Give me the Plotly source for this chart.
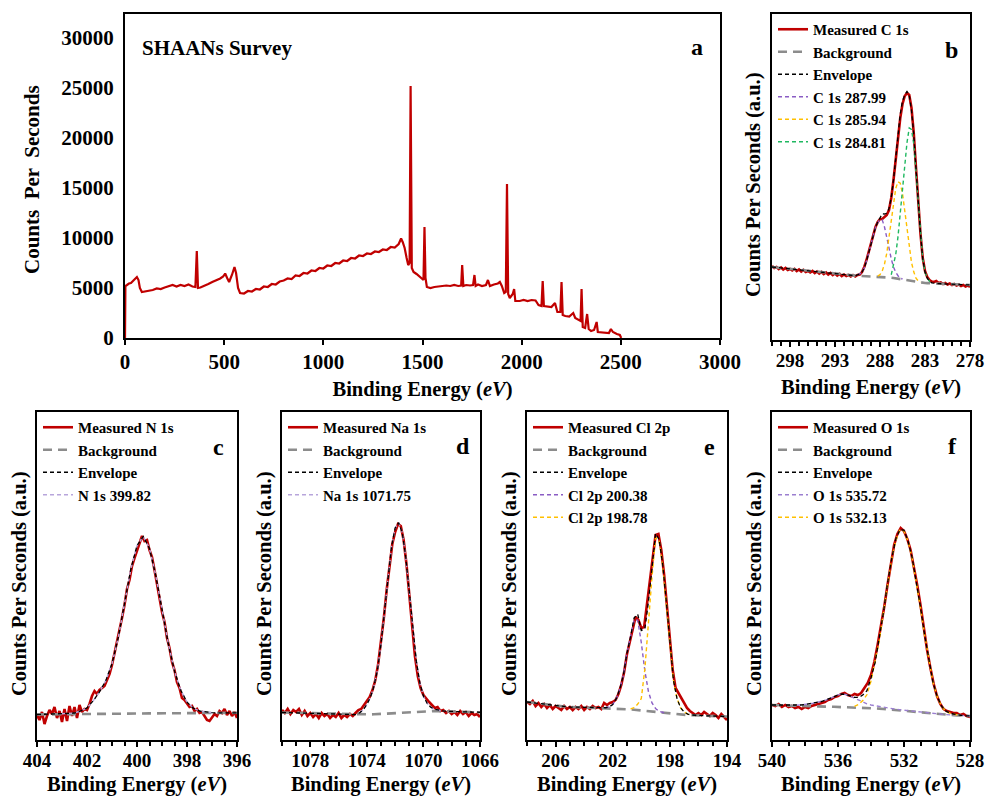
import numpy as np
import plotly.graph_objects as go

# ---------------- (a) survey ----------------
survey_be = [0, 2, 10, 20, 30, 40, 50, 60, 68, 75,
             85, 100, 120, 140, 160, 180, 200, 220, 240, 260,
             280, 300, 320, 340, 355, 362, 368, 380, 400, 420,
             440, 460, 480, 495, 505, 515, 525, 540, 552, 560,
             570, 580, 600, 620, 640, 660, 680, 700, 720, 740,
             760, 780, 800, 820, 840, 860, 880, 900, 920, 940,
             960, 980, 1000, 1020, 1040, 1060, 1080, 1100, 1120, 1140,
             1160, 1180, 1200, 1220, 1240, 1260, 1280, 1300, 1320, 1340,
             1360, 1380, 1392, 1400, 1410, 1420, 1428, 1435, 1440, 1446,
             1455, 1470, 1490, 1505, 1510, 1515, 1522, 1540, 1560, 1580,
             1600, 1620, 1640, 1660, 1680, 1695, 1700, 1706, 1720, 1740,
             1755, 1762, 1768, 1780, 1800, 1820, 1830, 1840, 1860, 1880,
             1890, 1900, 1912, 1920, 1926, 1932, 1940, 1955, 1962, 1968,
             1990, 2010, 2030, 2050, 2070, 2085, 2100, 2106, 2112, 2130,
             2150, 2168, 2180, 2195, 2201, 2207, 2220, 2240, 2260, 2270,
             2285, 2297, 2302, 2308, 2320, 2330, 2338, 2350, 2365, 2378,
             2384, 2400, 2420, 2440, 2450, 2460, 2480, 2495, 2502]
survey_cps = [0, 5200, 5300, 5450, 5500, 5700, 6000, 6100, 5800, 5000,
              4600, 4650, 4750, 4800, 4950, 4900, 5050, 5150, 5300, 5150,
              5300, 5200, 5350, 5150, 5100, 8700, 5000, 5050, 5200, 5400,
              5600, 5750, 5950, 6150, 6450, 6000, 5600, 6350, 7100, 6500,
              5000, 4500, 4450, 4700, 4650, 4900, 4850, 5150, 5100, 5400,
              5350, 5650, 5750, 5950, 5900, 6250, 6200, 6500, 6450, 6750,
              6700, 7000, 6950, 7250, 7200, 7500, 7450, 7750, 7700, 8000,
              7950, 8250, 8200, 8450, 8400, 8650, 8600, 8850, 8800, 9100,
              9050, 9400, 9950, 9600, 9000, 8000, 7300, 7500, 25200, 7000,
              6600, 6400, 6100, 5800, 11100, 6000, 5100, 5000, 5100, 5150,
              5200, 5250, 5200, 5300, 5200, 5250, 7300, 5200, 5300, 5250,
              5300, 6300, 5200, 5350, 5200, 5300, 5800, 5200, 5350, 5450,
              5600, 5200, 4500, 4600, 15400, 4400, 4000, 4400, 4900, 3700,
              3700, 3800, 3700, 3800, 3750, 3300, 3200, 5700, 3200, 3150,
              3100, 3500, 2600, 2600, 5600, 2300, 2200, 2150, 2500, 2000,
              1800, 1700, 4900, 1100, 1000, 2400, 900, 700, 800, 1600,
              600, 550, 500, 500, 900, 600, 400, 300, 0]

# ---------------- (b) C 1s ----------------
c1s_meas = [74, 72, 73, 71, 72.5, 70.5, 72, 70, 71, 69.5,
            71, 69, 70.5, 68.5, 70, 68, 69, 67.5, 69, 67,
            68.5, 66.5, 68, 66, 67.5, 65.5, 67, 65, 66.5, 64.5,
            66, 64, 65.5, 64, 65, 63.5, 65, 63.5, 65, 65.5,
            68, 73, 80, 88, 97, 106, 113, 118, 121, 121,
            123, 125, 130, 142, 160, 182, 203, 222, 236, 244,
            247, 245, 232, 207, 172, 138, 106, 82, 69, 63,
            60, 58.5, 58, 59, 57, 57.5, 56, 57, 55.5, 56.5,
            55, 56, 54.5, 55.5, 54, 55, 53.5, 54.5, 53]
c1s_bg = [73, 72.75, 72.5, 72.25, 72, 71.75, 71.5, 71.25, 71, 70.75,
          70.5, 70.25, 70, 69.75, 69.5, 69.25, 69, 68.75, 68.5, 68.25,
          68, 67.75, 67.5, 67.25, 67, 66.75, 66.5, 66.25, 66, 65.75,
          65.5, 65.25, 65, 64.85, 64.7, 64.55, 64.4, 64.3, 64.2, 64.1,
          64, 64, 64, 63.9, 63.8, 63.7, 63.6, 63.45, 63.3, 63.15,
          63, 62.75, 62.5, 62.25, 62, 61.65, 61.3, 60.9, 60.5, 60,
          59.5, 59, 58.5, 58.15, 57.8, 57.55, 57.3, 57.15, 57, 56.9,
          56.8, 56.7, 56.6, 56.5, 56.4, 56.3, 56.2, 56.1, 56, 55.9,
          55.8, 55.7, 55.6, 55.5, 55.4, 55.3, 55.2, 55.1, 55]
c1s_p1_be = [290.5, 290.25, 290.0, 289.75, 289.5, 289.25, 289.0, 288.75, 288.5, 288.25,
             288.0, 287.75, 287.5, 287.25, 287.0, 286.75, 286.5, 286.25, 286.0, 285.75, 285.5]
c1s_p1 = [1, 2, 4, 8, 15, 24, 33, 42, 49, 54, 57, 57, 50, 40, 29, 19, 11, 6, 3, 1, 0.5]
c1s_p2_be = [288.25, 288.0, 287.75, 287.5, 287.25, 287.0, 286.75, 286.5, 286.25, 286.0,
             285.75, 285.5, 285.25, 285.0, 284.75, 284.5, 284.25, 284.0, 283.75, 283.5]
c1s_p2 = [0.5, 2, 6, 13, 24, 40, 58, 75, 90, 97, 96, 86, 70, 51, 33, 19, 10, 4, 1.5, 0.5]
c1s_p3_be = [286.75, 286.5, 286.25, 286.0, 285.75, 285.5, 285.25, 285.0, 284.75, 284.5,
             284.25, 284.0, 283.75, 283.5, 283.25, 283.0, 282.75, 282.5, 282.25]
c1s_p3 = [3, 12, 24, 42, 68, 92, 115, 138, 153, 152, 138, 110, 78, 48, 24, 11, 5, 2, 0.5]

# ---------------- (c) N 1s ----------------
n1s_meas = [25, 20, 28, 16, 24, 30, 26, 33, 22, 29,
            18, 31, 19, 34, 24, 33, 22, 35, 28, 31,
            30, 36, 44, 49, 46, 50, 52, 54, 60, 66,
            75, 86, 97, 110, 122, 135, 151, 160, 174, 182,
            190, 198, 204, 199, 200, 190, 183, 170, 156, 141,
            128, 118, 102, 92, 78, 70, 58, 52, 42, 40,
            36, 33, 34, 29, 31, 27, 28, 24, 20, 19,
            22, 26, 24, 29, 27, 31, 25, 29, 24, 28,
            22]
n1s_bg = [25.5, 25.6, 25.7, 25.8, 25.9, 26.0, 26.0, 26.1, 26.1, 26.2,
          26.2, 26.3, 26.3, 26.4, 26.4, 26.5, 26.5, 26.5, 26.6, 26.6,
          26.7, 26.7, 26.8, 26.8, 26.9, 26.9, 27.0, 27.0, 27.0, 27.1,
          27.1, 27.2, 27.2]
n1s_p1_be = [403.0, 402.75, 402.5, 402.25, 402.0, 401.75, 401.5, 401.25, 401.0, 400.75,
             400.5, 400.25, 400.0, 399.75, 399.5, 399.25, 399.0, 398.75, 398.5, 398.25,
             398.0, 397.75, 397.5, 397.25, 397.0]
n1s_p1 = [0.3, 0.6, 1, 3, 6, 13, 22, 33, 50, 76, 110, 144, 168, 177, 165, 138, 104, 70, 42, 23,
          11, 5, 2, 1, 0.3]

# ---------------- (d) Na 1s ----------------
na1s_meas = [30, 27, 31, 26, 30, 28, 31, 25, 29, 24,
             27, 23, 26, 22, 27, 24, 26, 22, 25, 23,
             27, 22, 25, 23, 26, 24, 27, 30, 31, 35,
             38, 43, 50, 60, 76, 98, 122, 150, 176, 196,
             208, 216, 214, 200, 176, 146, 112, 84, 64, 52,
             45, 41, 38, 35, 32, 33, 29, 30, 27, 29,
             26, 28, 25, 29, 26, 28, 24, 27, 25, 26,
             23]
na1s_bg = [27.5, 27.4, 27.3, 27.2, 27.1, 27.0, 26.9, 26.8, 26.7, 26.6,
           26.5, 26.4, 26.3, 26.2, 26.1, 26.0, 25.9, 25.8, 25.7, 25.6,
           25.5, 25.4, 25.4, 25.4, 25.5, 25.6, 25.7, 25.9, 26.1, 26.3,
           26.5, 26.8, 27.0, 27.3, 27.6, 27.9, 28.2, 28.4, 28.6, 28.8,
           28.9, 29.0, 29.0, 29.0, 28.9, 28.8, 28.7, 28.6, 28.5, 28.4,
           28.3, 28.2, 28.1, 28.0, 27.9, 27.8, 27.7]
na1s_p1_be = [1074.5, 1074.25, 1074.0, 1073.75, 1073.5, 1073.25, 1073.0, 1072.75, 1072.5, 1072.25,
              1072.0, 1071.75, 1071.5, 1071.25, 1071.0, 1070.75, 1070.5, 1070.25, 1070.0, 1069.75,
              1069.5, 1069.25, 1069.0, 1068.75, 1068.5]
na1s_p1 = [2, 5, 10, 17, 28, 44, 70, 100, 135, 167, 185, 190, 180, 155, 118, 82, 50, 28, 15, 8,
           4, 2, 1, 0.5, 0.2]

# ---------------- (e) Cl 2p ----------------
cl2p_meas = [38, 36, 39, 34, 37, 33, 36, 32, 35, 31,
             34, 32, 30, 34, 31, 33, 30, 33, 31, 34,
             30, 33, 31, 34, 32, 33, 31, 37, 35, 37,
             38, 40, 46, 55, 68, 86, 98, 110, 123, 120,
             112, 113, 137, 160, 180, 205, 206, 190, 165, 132,
             100, 70, 52, 47, 42, 36, 32, 29, 27, 25,
             27, 25, 28, 26, 24, 27, 25, 22, 26, 23,
             20]
cl2p_bg = [38.0, 37.5, 37.0, 36.5, 36.0, 35.5, 35.0, 34.5, 34.0, 33.75,
           33.5, 33.25, 33.0, 32.9, 32.75, 32.6, 32.5, 32.4, 32.25, 32.1,
           32.0, 31.9, 31.75, 31.6, 31.5, 31.4, 31.25, 31.1, 31.0, 30.6,
           30.25, 29.9, 29.5, 29.0, 28.5, 28.0, 27.5, 27.1, 26.75, 26.4,
           26.0, 25.75, 25.5, 25.25, 25.0, 24.9, 24.75, 24.6, 24.5, 24.4,
           24.25, 24.1, 24.0, 23.9, 23.75, 23.6, 23.5]
cl2p_p1_be = [202.5, 202.25, 202.0, 201.75, 201.5, 201.25, 201.0, 200.75, 200.5, 200.25,
              200.0, 199.75, 199.5, 199.25, 199.0, 198.75, 198.5, 198.25]
cl2p_p1 = [0.5, 1.5, 4, 10, 20, 34, 56, 72, 90, 90, 68, 40, 20, 9, 4, 1.5, 0.7, 0.3]
cl2p_p2_be = [200.75, 200.5, 200.25, 200.0, 199.75, 199.5, 199.25, 199.0, 198.75, 198.5,
              198.25, 198.0, 197.75, 197.5, 197.25, 197.0, 196.75, 196.5]
cl2p_p2 = [0.5, 2, 6, 12, 42, 90, 135, 175, 172, 148, 112, 72, 34, 16, 7, 3, 1, 0.3]

# ---------------- (f) O 1s ----------------
o1s_meas = [35, 34, 36, 33, 35, 33, 34, 32, 33, 31,
            33, 32, 34, 35, 36, 37, 38, 40, 41, 43,
            44, 46, 47, 45, 44, 46, 45, 47, 52, 57,
            65, 78, 95, 113, 133, 155, 177, 195, 206, 212,
            209, 201, 190, 174, 155, 135, 112, 90, 72, 56,
            44, 36, 31, 29, 28, 27, 27, 25, 26, 24,
            23]
o1s_bg = [35.0, 35.0, 34.8, 34.6, 34.5, 34.3, 34.2, 34.0, 33.9, 33.8,
          33.7, 33.6, 33.5, 33.4, 33.3, 33.2, 33.1, 33.0, 32.9, 32.8,
          32.7, 32.6, 32.4, 32.2, 32.0, 31.7, 31.4, 31.0, 30.6, 30.2,
          29.8, 29.4, 29.0, 28.6, 28.2, 27.8, 27.4, 27.0, 26.6, 26.2,
          25.8, 25.5, 25.2, 25.0, 24.8, 24.6, 24.4, 24.2, 24.0]
o1s_p1_be = [538.5, 538.25, 538.0, 537.75, 537.5, 537.25, 537.0, 536.75, 536.5, 536.25,
             536.0, 535.75, 535.5, 535.25, 535.0, 534.75, 534.5, 534.25, 534.0, 533.5,
             533.0, 532.5, 532.0, 531.5, 531.0, 530.5, 530.0, 529.5, 529.0, 528.5, 528.0]
o1s_p1 = [0.5, 1, 1.5, 2.2, 3, 4, 5, 6.5, 8, 10, 12, 13, 12.5, 11, 9, 7, 5.5, 4, 3, 2,
          1.5, 1, 0.8, 0.6, 0.5, 0.4, 0.3, 0.2, 0.2, 0.1, 0.1]
o1s_p2_be = [535.0, 534.75, 534.5, 534.25, 534.0, 533.75, 533.5, 533.25, 533.0, 532.75,
             532.5, 532.25, 532.0, 531.75, 531.5, 531.25, 531.0, 530.75, 530.5, 530.25,
             530.0, 529.75, 529.5, 529.25, 529.0, 528.75]
o1s_p2 = [1, 3, 7, 13, 27, 46, 68, 96, 124, 151, 170, 181, 180, 170, 153, 130, 105, 78, 53, 32,
          18, 9, 4, 2, 1, 0.4]

# ---------------- helpers ----------------
W, H = 989, 796
FONT = "Liberation Serif"
RED = "#C00000"
GRAY = "#8C8C8C"
YEL = "#FFC000"
GRN = "#1FB860"
PUR = "#8A5CC4"
LPUR = "#B7A5DB"


def grid(start, stop, step):
    return np.round(np.arange(start, stop - step / 2, -step), 3)


def px(x):
    return x / W


def py(y):
    return 1 - y / H


def check(name, a, b):
    if len(a) != len(b):
        raise ValueError(f"{name}: {len(a)} vs {len(b)}")


fig = go.Figure()

# survey
fig.add_trace(go.Scatter(x=survey_be, y=survey_cps, mode="lines",
                         line=dict(color=RED, width=2.2), showlegend=False,
                         xaxis="x", yaxis="y"))

panels = [
    dict(ax="2", leg="legend", box=(772, 970, 14, 340), rng=(300, 278), dtick=5, tick0=278, minor=1,
         meas=c1s_meas, mstep=0.25, bg=c1s_bg, fstep=0.25, name="C 1s", tstand=10,
         comps=[(c1s_p1_be, c1s_p1, "C 1s 287.99", PUR),
                (c1s_p2_be, c1s_p2, "C 1s 285.94", YEL),
                (c1s_p3_be, c1s_p3, "C 1s 284.81", GRN)], letter="b", lx=951, ly=50),
    dict(ax="3", leg="legend2", box=(37, 237, 412, 740), rng=(404, 396), dtick=2, tick0=396, minor=0.5,
         meas=n1s_meas, mstep=0.1, bg=n1s_bg, fstep=0.25, name="N 1s", tstand=15,
         comps=[(n1s_p1_be, n1s_p1, "N 1s 399.82", LPUR)], letter="c", lx=218, ly=447),
    dict(ax="4", leg="legend3", box=(282, 480, 412, 740), rng=(1080, 1066), dtick=4, tick0=1066, minor=1,
         meas=na1s_meas, mstep=0.2, bg=na1s_bg, fstep=0.25, name="Na 1s", tstand=15,
         comps=[(na1s_p1_be, na1s_p1, "Na 1s 1071.75", LPUR)], letter="d", lx=463, ly=446),
    dict(ax="5", leg="legend4", box=(527, 727, 412, 740), rng=(208, 194), dtick=4, tick0=194, minor=1,
         meas=cl2p_meas, mstep=0.2, bg=cl2p_bg, fstep=0.25, name="Cl 2p", tstand=15,
         comps=[(cl2p_p1_be, cl2p_p1, "Cl 2p 200.38", PUR),
                (cl2p_p2_be, cl2p_p2, "Cl 2p 198.78", YEL)], letter="e", lx=709, ly=447),
    dict(ax="6", leg="legend5", box=(772, 970, 412, 740), rng=(540, 528), dtick=4, tick0=528, minor=1,
         meas=o1s_meas, mstep=0.2, bg=o1s_bg, fstep=0.25, name="O 1s", tstand=15,
         comps=[(o1s_p1_be, o1s_p1, "O 1s 535.72", "#9B7FD0"),
                (o1s_p2_be, o1s_p2, "O 1s 532.13", YEL)], letter="f", lx=952, ly=446),
]

layout_axes = {}
annotations = []
legends = {}

xtitle = "Binding Energy (<i>eV</i>)"
tickfont = dict(family=FONT, size=19, color="black", weight="bold")
tickfont_a = dict(family=FONT, size=21, color="black", weight="bold")
titlefont = dict(family=FONT, size=20.5, color="black", weight="bold")

for p in panels:
    x0, x1, y0, y1 = p["box"]
    mx = grid(p["rng"][0], p["rng"][1], p["mstep"])
    fx = grid(p["rng"][0], p["rng"][1], p["fstep"])
    check(p["name"] + " meas", mx, p["meas"])
    check(p["name"] + " bg", fx, p["bg"])
    bg = np.array(p["bg"], float)
    idx = {round(float(v), 3): i for i, v in enumerate(fx)}
    env = bg.copy()
    comp_traces = []
    for cx, cy, lab, col in p["comps"]:
        check(lab, cx, cy)
        ii = [idx[round(v, 3)] for v in cx]
        env[ii] += np.array(cy, float)
        comp_traces.append((np.array(cx), bg[ii] + np.array(cy, float), lab, col))
    xa, ya = "x" + p["ax"], "y" + p["ax"]
    fig.add_trace(go.Scatter(x=mx, y=p["meas"], mode="lines", name="Measured " + p["name"],
                             line=dict(color=RED, width=2.6), xaxis=xa, yaxis=ya,
                             legend=p["leg"], legendrank=1))
    fig.add_trace(go.Scatter(x=fx, y=bg, mode="lines", name="Background",
                             line=dict(color=GRAY, width=2.6, dash="9px,6px"), xaxis=xa, yaxis=ya,
                             legend=p["leg"], legendrank=2))
    for k, (cx, cy, lab, col) in enumerate(comp_traces):
        fig.add_trace(go.Scatter(x=cx, y=cy, mode="lines", name=lab,
                                 line=dict(color=col, width=1.4, dash="4px,3px"), xaxis=xa, yaxis=ya,
                                 legend=p["leg"], legendrank=4 + k))
    fig.add_trace(go.Scatter(x=fx, y=env, mode="lines", name="Envelope",
                             line=dict(color="black", width=1.3, dash="4px,3px"), xaxis=xa, yaxis=ya,
                             legend=p["leg"], legendrank=3))

    layout_axes["xaxis" + p["ax"]] = dict(
        domain=[px(x0), px(x1)], range=list(p["rng"]), anchor=ya, automargin=False,
        showline=True, linecolor="black", linewidth=2, mirror=True,
        ticks="outside", ticklen=5, tickwidth=1.5, tickcolor="black",
        dtick=p["dtick"], tick0=p["tick0"], tickfont=tickfont, ticklabelstandoff=-3,
        minor=dict(ticks="outside", ticklen=4, tickwidth=1.5, dtick=p["minor"], tickcolor="black"),
        showgrid=False, zeroline=False,
        title=dict(text=xtitle, font=titlefont, standoff=p["tstand"]))
    layout_axes["yaxis" + p["ax"]] = dict(
        domain=[py(y1), py(y0)], range=[0, y1 - y0], anchor=xa, automargin=False,
        showline=True, linecolor="black", linewidth=2, mirror=True,
        ticks="", showticklabels=False, showgrid=False, zeroline=False)
    annotations.append(dict(x=px(x0 - 18), y=py((y0 + y1) / 2 + 8), xref="paper", yref="paper",
                            text="Counts Per Seconds (a.u.)", textangle=-90, showarrow=False,
                            xanchor="center", yanchor="middle", font=titlefont))
    legends[p["leg"]] = dict(
        x=px(x0 + 1), y=py(y0 - 1), xanchor="left", yanchor="top",
        bgcolor="rgba(0,0,0,0)", borderwidth=0, itemwidth=30, tracegroupgap=0,
        font=dict(family=FONT, size=15, color="black", weight="bold"))
    annotations.append(dict(x=px(p["lx"]), y=py(p["ly"]), xref="paper", yref="paper",
                            text=p["letter"], showarrow=False, xanchor="center", yanchor="middle",
                            font=dict(family=FONT, size=24, color="black", weight="bold")))

# panel a axes
layout_axes["xaxis"] = dict(
    domain=[px(125), px(720)], range=[0, 3000], anchor="y", automargin=False,
    showline=True, linecolor="black", linewidth=2, mirror=True,
    ticks="outside", ticklen=5, tickwidth=1.5, tickcolor="black", dtick=500, tick0=0,
    tickfont=tickfont_a, ticklabelstandoff=-1, showgrid=False, zeroline=False,
    title=dict(text=xtitle, font=titlefont, standoff=8))
layout_axes["yaxis"] = dict(
    domain=[py(338), py(14)], range=[0, 32400], anchor="x", automargin=False,
    showline=True, linecolor="black", linewidth=2, mirror=True,
    ticks="", dtick=5000, tick0=0, tickformat="d", tickfont=tickfont_a, ticklabelstandoff=5,
    showgrid=False, zeroline=False)
annotations.append(dict(x=px(32), y=py(180), xref="paper", yref="paper", text="Counts  Per  Seconds",
                        textangle=-90, showarrow=False, xanchor="center", yanchor="middle",
                        font=dict(family=FONT, size=21, color="black", weight="bold")))
annotations.append(dict(x=px(140), y=py(48), xref="paper", yref="paper", text="SHAANs Survey",
                        showarrow=False, xanchor="left", yanchor="middle",
                        font=dict(family=FONT, size=21, color="black", weight="bold")))
annotations.append(dict(x=px(697), y=py(47), xref="paper", yref="paper", text="a",
                        showarrow=False, xanchor="center", yanchor="middle",
                        font=dict(family=FONT, size=24, color="black", weight="bold")))

fig.update_layout(
    width=W, height=H, margin=dict(l=0, r=0, t=0, b=0, autoexpand=False),
    paper_bgcolor="white", plot_bgcolor="white",
    font=dict(family=FONT, size=19, color="black", weight="bold"),
    annotations=annotations, **layout_axes, **legends)

fig.write_html("out.html")
